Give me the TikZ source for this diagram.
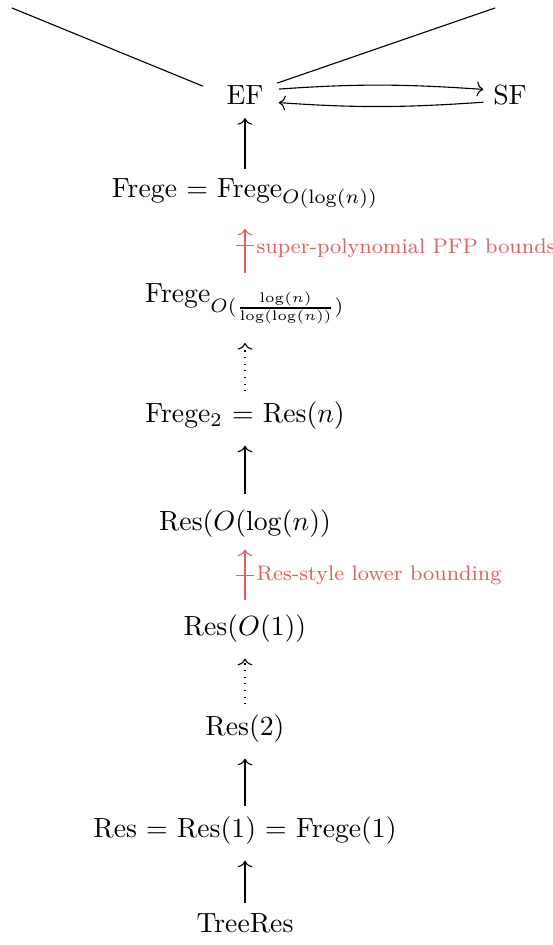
\documentclass[tikz,border=0pt]{standalone}
\usetikzlibrary{calc}
\usetikzlibrary{arrows.meta}
\usetikzlibrary{decorations.markings}

\definecolor{boundred}{RGB}{222,96,96}

\tikzset{
	>={Computer Modern Rightarrow[width=5.4pt,length=2.4pt]},
	upArrow/.style={->, shorten >=2.5pt},
	negated/.style={postaction={decorate},
		decoration={markings, mark=at position 0.5 with {\draw[-, shorten <=0pt, shorten >=0pt] (0,-3.2pt) -- (0,3.2pt);}}},
	boundlabel/.style={anchor=west, text=boundred, font=\fontsize{7.6}{9}\selectfont, inner sep=1pt},
}

\begin{document}
\begin{tikzpicture}[x=0.01268cm, y=-0.01268cm]

	\useasboundingbox (0,0) rectangle (552,945);

% Define coordinates.

	%lines leaving the picture
	\coordinate (farLeft) at (12,8);
	\coordinate (farRight) at (495,8);

	%systems
	\node[anchor=base] (EF) at (245,105) {EF};
	\node[anchor=base] (SF) at (510,105) {SF};
	\node[anchor=base] (fregeLog) at (245,198) {Frege $=$ Frege$_{O(\log(n))}$};
	\node[anchor=base] (fregeFrac) at (245,302) {Frege$_{O(\frac{\log(n)}{\log(\log(n))})}$};
	\node[anchor=base] (fregeTwo) at (245,422) {Frege$_2$ $=$ Res$(n)$};
	\node[anchor=base] (resLog) at (245,530) {Res$(O(\log(n))$};
	\node[anchor=base] (resConst) at (245,635) {Res$(O(1))$};
	\node[anchor=base] (resTwo) at (245,735) {Res$(2)$};
	\node[anchor=base] (resOne) at (245,837) {Res $=$ Res$(1)$ $=$ Frege$(1)$};
	\node[anchor=base] (treeRes) at (245,932) {TreeRes};

% Draw lines.

	\draw ([xshift=-5pt, yshift=3.4pt]EF.west) -- (farLeft);
	\draw ([xshift=1.4pt, yshift=4.5pt]EF.east) -- (farRight);

	\draw[->, shorten <=2pt] ([yshift=2.2pt]EF.east) to[bend left=4] ([yshift=2.2pt]SF.west);
	\draw[->, shorten >=2pt] ([yshift=-2.4pt]SF.west) to[bend left=4] ([yshift=-2.4pt]EF.east);

	\draw[upArrow, shorten >=1.2pt] (fregeLog) -- (EF);
	\draw[upArrow, boundred, negated, shorten >=4pt] (fregeFrac) -- (fregeLog)
		node[midway, boundlabel, xshift=3pt, yshift=-1pt] (pfpLabel) {super-polynomial PFP bounds};
	\draw[upArrow, dotted, shorten >=3.5pt] (fregeTwo) -- (fregeFrac);
	\draw[upArrow, shorten <=2pt] (resLog) -- (fregeTwo);
	\draw[upArrow, boundred, negated, shorten <=1.5pt, shorten >=1pt] (resConst) -- (resLog)
		node[midway, boundlabel, xshift=3pt] (resLabel) {Res-style lower bounding};
	\draw[upArrow, dotted] (resTwo) -- (resConst);
	\draw[upArrow] (resOne) -- (resTwo);
	\draw[upArrow] (treeRes) -- (resOne);

\end{tikzpicture}
\end{document}
